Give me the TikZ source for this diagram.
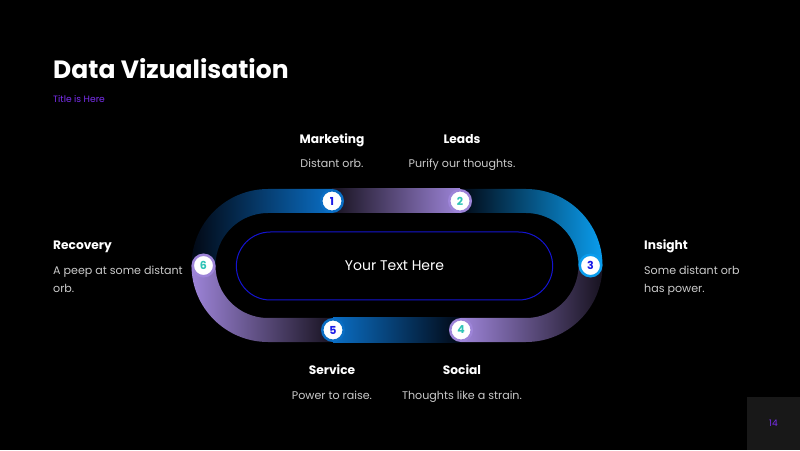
\documentclass[tikz,border=0pt]{standalone}
\usepackage{fontspec}
\setmainfont{Poppins}
\usetikzlibrary{shapes.misc}
\definecolor{bandblue}{HTML}{0A6EC4}
\definecolor{bandbright}{HTML}{0A9DEE}
\definecolor{bandpurple}{HTML}{9D84D8}
\definecolor{darkblue}{HTML}{020814}
\definecolor{darkpurple}{HTML}{17121F}
\definecolor{numblue}{HTML}{1A1AE6}
\definecolor{numteal}{HTML}{2EC4B6}
\definecolor{subpurple}{HTML}{7B2FF0}
\definecolor{bodygray}{HTML}{CACACA}
\definecolor{frameblue}{HTML}{1414D0}
\definecolor{pagebox}{HTML}{181818}
\begin{document}
\begin{tikzpicture}[x=1pt,y=1pt,
  numc/.style={circle, fill=white, line width=2.5pt, minimum size=21.5pt, inner sep=0pt, font=\bfseries\fontsize{11}{11}\selectfont},
  head/.style={text=white, font=\bfseries\fontsize{12.2}{12.2}\selectfont, inner sep=0pt, anchor=base},
  body/.style={text=bodygray, font=\fontsize{11.1}{11.1}\selectfont, inner sep=0pt, anchor=base},
  lhead/.style={head, anchor=base west},
  lbody/.style={body, anchor=base west}]
\fill[black] (0,0) rectangle (800,450);
\useasboundingbox (0,0) rectangle (800,450);
% title
\node[text=white, font=\bfseries\fontsize{25}{25}\selectfont, inner sep=0pt, anchor=base west] (title) at (53,371) {Data Vizualisation};
\node[text=subpurple, font=\fontsize{9.2}{9.2}\selectfont, inner sep=0pt, anchor=base west] (subtitle) at (53,347.5) {Title is Here};
% track segments
\shade[left color=darkpurple, right color=bandpurple] (332,237) rectangle (460,261);
\shade[left color=darkblue, right color=bandbright] (460,261) -- (526,261) arc[start angle=90,end angle=0,radius=76.5] -- (578.5,184.5) arc[start angle=0,end angle=90,radius=52.5] -- (460,237) -- cycle;
\shade[left color=bandpurple, right color=darkpurple] (602.5,184.5) arc[start angle=0,end angle=-90,radius=76.5] -- (461,108) -- (461,132) -- (526,132) arc[start angle=-90,end angle=0,radius=52.5] -- cycle;
\shade[left color=bandblue, right color=darkblue] (333,108) rectangle (461,132);
\shade[left color=bandpurple, right color=darkpurple] (333,108) -- (268,108) arc[start angle=270,end angle=180,radius=76.5] -- (215.5,184.5) arc[start angle=180,end angle=270,radius=52.5] -- (333,132) -- cycle;
\shade[left color=darkblue, right color=bandblue] (191.5,184.5) arc[start angle=180,end angle=90,radius=76.5] -- (332,261) -- (332,237) -- (268,237) arc[start angle=90,end angle=180,radius=52.5] -- cycle;
% number badges
\node[numc, draw=bandblue, text=numblue] (n1) at (332,249) {1};
\node[numc, draw=bandpurple, text=numteal] (n2) at (460,249) {2};
\node[numc, draw=bandbright, text=numblue] (n3) at (590.5,184.5) {3};
\node[numc, draw=bandpurple, text=numteal] (n4) at (461,120) {4};
\node[numc, draw=bandblue, text=numblue] (n5) at (333,120) {5};
\node[numc, draw=bandpurple, text=numteal] (n6) at (203.5,184.5) {6};
% centre
\node[rounded rectangle, draw=frameblue, line width=1pt, minimum width=323pt, minimum height=68pt, text=white, font=\fontsize{14}{14}\selectfont] (core) at (394.5,184) {Your Text Here};
% labels
\node[head] (h1) at (332,306) {Marketing};
\node[body] (b1) at (332,282.3) {Distant orb.};
\node[head] (h2) at (462,306) {Leads};
\node[body] (b2) at (462,282.3) {Purify our thoughts.};
\node[head] (h5) at (332,75.7) {Service};
\node[body] (b5) at (332,50.7) {Power to raise.};
\node[head] (h4) at (462,75.7) {Social};
\node[body] (b4) at (462,50.7) {Thoughts like a strain.};
\node[lhead] (h6) at (53,200) {Recovery};
\node[lbody] (b6a) at (53,175.5) {A peep at some distant};
\node[lbody] (b6b) at (53,157.5) {orb.};
\node[lhead] (h3) at (644,200) {Insight};
\node[lbody] (b3a) at (644,175.5) {Some distant orb};
\node[lbody] (b3b) at (644,157.5) {has power.};
% page number
\fill[pagebox] (747,0) rectangle (800,53);
\node[text=subpurple, font=\fontsize{9}{9}\selectfont, inner sep=0pt] (pg) at (773.5,27) {14};
\end{tikzpicture}
\end{document}
